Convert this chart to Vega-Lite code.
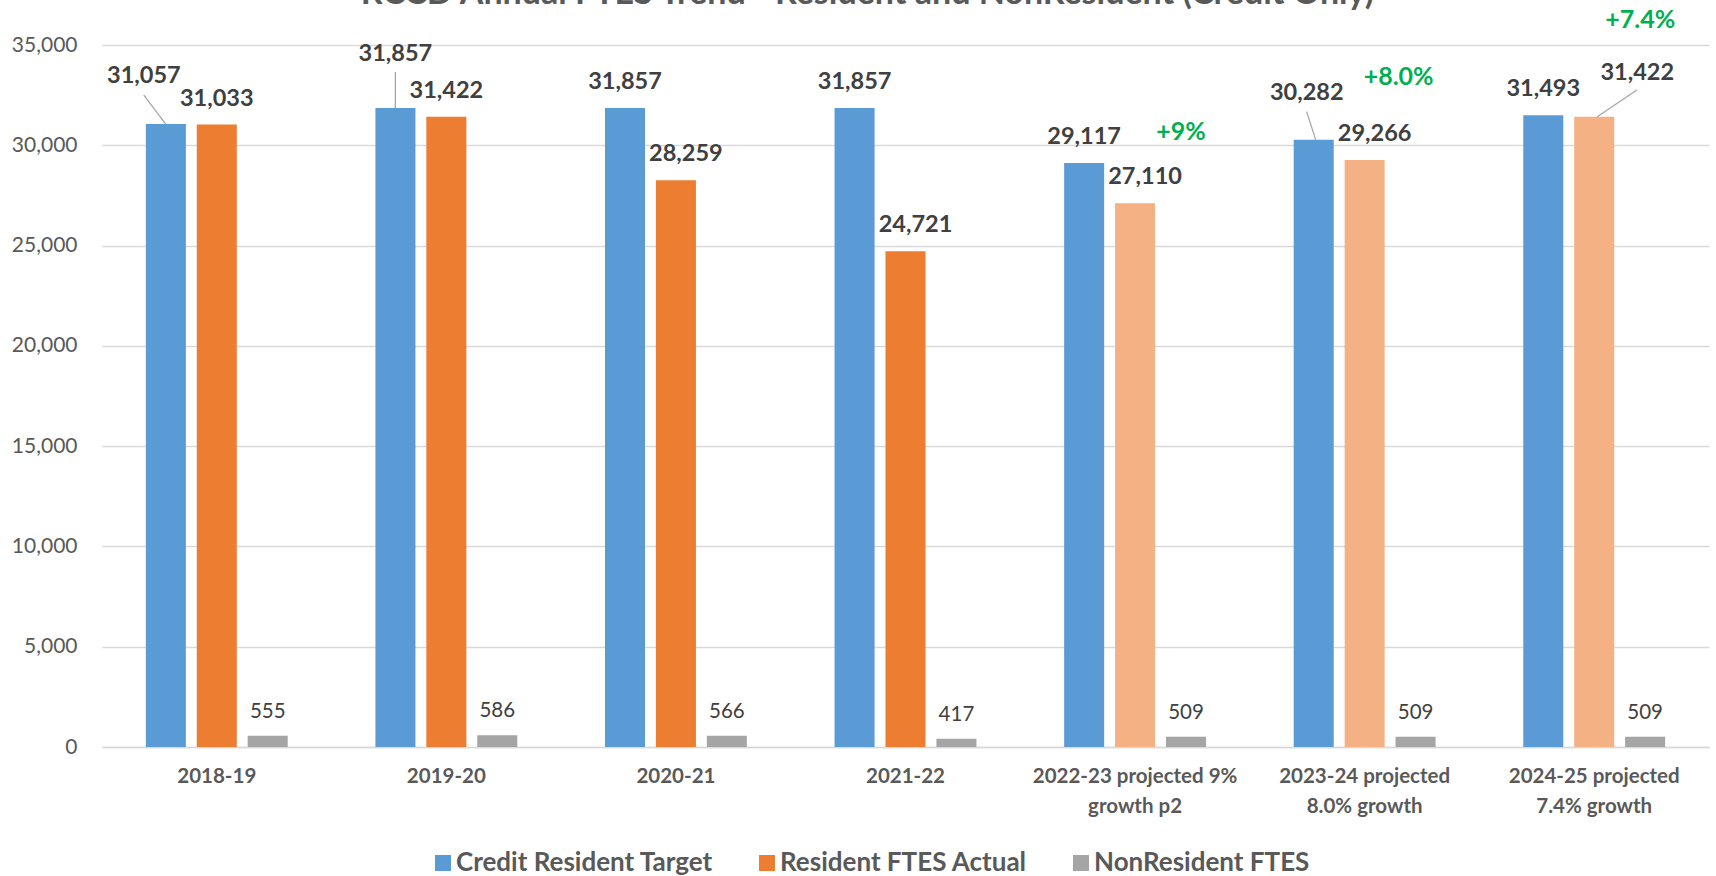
{
  "$schema": "https://vega.github.io/schema/vega-lite/v6.json",
  "width": 1607,
  "height": 702,
  "autosize": {"type": "none"},
  "padding": {"left": 102, "top": 45, "right": 7, "bottom": 129},
  "background": "white",
  "config": {
    "view": {"stroke": null},
    "font": "Lato",
    "text": {"font": "Lato"}
  },
  "title": {
    "text": "RCCD Annual FTES Trend - Resident and NonResident (Credit Only)",
    "font": "Lato",
    "fontSize": 34,
    "fontWeight": "bold",
    "color": "#595959",
    "anchor": "middle",
    "frame": "group",
    "offset": 8,
    "dx": -38,
    "dy": 11
  },
  "data": {
    "values": [
      {"year": "2018-19", "series": "Credit Resident Target", "value": 31057},
      {"year": "2018-19", "series": "Resident FTES Actual", "value": 31033},
      {"year": "2018-19", "series": "NonResident FTES", "value": 555},
      {"year": "2019-20", "series": "Credit Resident Target", "value": 31857},
      {"year": "2019-20", "series": "Resident FTES Actual", "value": 31422},
      {"year": "2019-20", "series": "NonResident FTES", "value": 586},
      {"year": "2020-21", "series": "Credit Resident Target", "value": 31857},
      {"year": "2020-21", "series": "Resident FTES Actual", "value": 28259},
      {"year": "2020-21", "series": "NonResident FTES", "value": 566},
      {"year": "2021-22", "series": "Credit Resident Target", "value": 31857},
      {"year": "2021-22", "series": "Resident FTES Actual", "value": 24721},
      {"year": "2021-22", "series": "NonResident FTES", "value": 417},
      {"year": "2022-23 projected 9% growth p2", "series": "Credit Resident Target", "value": 29117},
      {"year": "2022-23 projected 9% growth p2", "series": "Resident FTES Actual", "value": 27110, "growth": "+9%"},
      {"year": "2022-23 projected 9% growth p2", "series": "NonResident FTES", "value": 509},
      {"year": "2023-24 projected 8.0% growth", "series": "Credit Resident Target", "value": 30282},
      {"year": "2023-24 projected 8.0% growth", "series": "Resident FTES Actual", "value": 29266, "growth": "+8.0%"},
      {"year": "2023-24 projected 8.0% growth", "series": "NonResident FTES", "value": 509},
      {"year": "2024-25 projected 7.4% growth", "series": "Credit Resident Target", "value": 31493},
      {"year": "2024-25 projected 7.4% growth", "series": "Resident FTES Actual", "value": 31422, "growth": "+7.4%"},
      {"year": "2024-25 projected 7.4% growth", "series": "NonResident FTES", "value": 509}
    ]
  },
  "encoding": {
    "x": {
      "field": "year",
      "type": "nominal",
      "sort": null,
      "scale": {"paddingInner": 0.382, "paddingOuter": 0.191},
      "axis": {
        "title": null,
        "labelAngle": 0,
        "labelFont": "Lato",
        "labelFontSize": 20.5,
        "labelFontWeight": "bold",
        "labelColor": "#595959",
        "labelPadding": 19,
        "labelLineHeight": 30,
        "labelBaseline": "top",
        "labelLimit": 400,
        "ticks": false,
        "domainColor": "#D9D9D9",
        "domainWidth": 1.5,
        "labelExpr": "datum.value == '2022-23 projected 9% growth p2' ? ['2022-23 projected 9%', 'growth p2'] : datum.value == '2023-24 projected 8.0% growth' ? ['2023-24 projected', '8.0% growth'] : datum.value == '2024-25 projected 7.4% growth' ? ['2024-25 projected', '7.4% growth'] : datum.value"
      }
    },
    "y": {
      "field": "value",
      "type": "quantitative",
      "scale": {"domain": [0, 35000], "nice": false},
      "axis": {
        "title": null,
        "values": [0, 5000, 10000, 15000, 20000, 25000, 30000, 35000],
        "format": ",.0f",
        "labelFont": "Lato",
        "labelFontSize": 21,
        "labelColor": "#595959",
        "labelPadding": 25,
        "ticks": false,
        "domain": false,
        "gridColor": "#D9D9D9",
        "gridWidth": 1.5
      }
    }
  },
  "layer": [
    {
      "mark": {"type": "bar"},
      "encoding": {
        "xOffset": {
          "field": "series",
          "sort": ["Credit Resident Target", "Resident FTES Actual", "NonResident FTES"],
          "scale": {"paddingInner": 0.214, "paddingOuter": 0}
        },
        "color": {
          "field": "series",
          "type": "nominal",
          "condition": {"test": "datum.series == 'Resident FTES Actual' && length(datum.year) > 7", "value": "#F4B183"},
          "scale": {
            "domain": ["Credit Resident Target", "Resident FTES Actual", "NonResident FTES"],
            "range": ["#5B9BD5", "#ED7D31", "#A5A5A5"]
          },
          "legend": {
            "title": null,
            "orient": "none",
            "direction": "horizontal",
            "legendX": 328,
            "legendY": 805,
            "symbolType": "square",
            "symbolSize": 256,
            "symbolStrokeWidth": 0,
            "labelFont": "Lato",
            "labelFontSize": 26,
            "labelFontWeight": "bold",
            "labelColor": "#595959",
            "labelOffset": 0,
            "columnPadding": 41,
            "labelLimit": 400
          }
        }
      }
    },
    {
      "transform": [{"filter": "datum.series == 'Credit Resident Target' && datum.year == '2018-19'"}],
      "mark": {"type": "rule", "color": "#A6A6A6", "strokeWidth": 1.3, "xOffset": -51, "x2Offset": -73, "yOffset": 0, "y2Offset": -29},
      "encoding": {"x2": {"field": "year"}, "y2": {"field": "value"}}
    },
    {
      "transform": [{"filter": "datum.series == 'Credit Resident Target' && datum.year == '2019-20'"}],
      "mark": {"type": "rule", "color": "#A6A6A6", "strokeWidth": 1.3, "xOffset": -51, "x2Offset": -51, "yOffset": 0, "y2Offset": -36},
      "encoding": {"x2": {"field": "year"}, "y2": {"field": "value"}}
    },
    {
      "transform": [{"filter": "datum.series == 'Credit Resident Target' && datum.year == '2023-24 projected 8.0% growth'"}],
      "mark": {"type": "rule", "color": "#A6A6A6", "strokeWidth": 1.3, "xOffset": -49, "x2Offset": -58, "yOffset": 0, "y2Offset": -28},
      "encoding": {"x2": {"field": "year"}, "y2": {"field": "value"}}
    },
    {
      "transform": [{"filter": "datum.series == 'Resident FTES Actual' && datum.year == '2024-25 projected 7.4% growth'"}],
      "mark": {"type": "rule", "color": "#A6A6A6", "strokeWidth": 1.3, "xOffset": 3, "x2Offset": 43, "yOffset": 0, "y2Offset": -27},
      "encoding": {"x2": {"field": "year"}, "y2": {"field": "value"}}
    },
    {
      "transform": [{"filter": "datum.series == 'Credit Resident Target' && datum.year != '2018-19' && datum.year != '2019-20' && datum.year != '2023-24 projected 8.0% growth'"}],
      "mark": {"type": "text", "font": "Lato", "fontSize": 23.5, "fontWeight": "bold", "color": "#404040", "baseline": "alphabetic", "dy": -19},
      "encoding": {"xOffset": {"field": "series", "sort": ["Credit Resident Target", "Resident FTES Actual", "NonResident FTES"], "scale": {"paddingInner": 0.214, "paddingOuter": 0}}, "text": {"field": "value", "format": ",.0f"}}
    },
    {
      "transform": [{"filter": "datum.series == 'Credit Resident Target' && datum.year == '2018-19'"}],
      "mark": {"type": "text", "font": "Lato", "fontSize": 23.5, "fontWeight": "bold", "color": "#404040", "baseline": "alphabetic", "dx": -22, "dy": -41},
      "encoding": {"xOffset": {"field": "series", "sort": ["Credit Resident Target", "Resident FTES Actual", "NonResident FTES"], "scale": {"paddingInner": 0.214, "paddingOuter": 0}}, "text": {"field": "value", "format": ",.0f"}}
    },
    {
      "transform": [{"filter": "datum.series == 'Credit Resident Target' && datum.year == '2019-20'"}],
      "mark": {"type": "text", "font": "Lato", "fontSize": 23.5, "fontWeight": "bold", "color": "#404040", "baseline": "alphabetic", "dx": 0, "dy": -47},
      "encoding": {"xOffset": {"field": "series", "sort": ["Credit Resident Target", "Resident FTES Actual", "NonResident FTES"], "scale": {"paddingInner": 0.214, "paddingOuter": 0}}, "text": {"field": "value", "format": ",.0f"}}
    },
    {
      "transform": [{"filter": "datum.series == 'Credit Resident Target' && datum.year == '2023-24 projected 8.0% growth'"}],
      "mark": {"type": "text", "font": "Lato", "fontSize": 23.5, "fontWeight": "bold", "color": "#404040", "baseline": "alphabetic", "dx": -7, "dy": -40},
      "encoding": {"xOffset": {"field": "series", "sort": ["Credit Resident Target", "Resident FTES Actual", "NonResident FTES"], "scale": {"paddingInner": 0.214, "paddingOuter": 0}}, "text": {"field": "value", "format": ",.0f"}}
    },
    {
      "transform": [{"filter": "datum.series == 'Resident FTES Actual' && (datum.year == '2018-19' || datum.year == '2019-20')"}],
      "mark": {"type": "text", "font": "Lato", "fontSize": 23.5, "fontWeight": "bold", "color": "#404040", "baseline": "alphabetic", "dy": -19},
      "encoding": {"xOffset": {"field": "series", "sort": ["Credit Resident Target", "Resident FTES Actual", "NonResident FTES"], "scale": {"paddingInner": 0.214, "paddingOuter": 0}}, "text": {"field": "value", "format": ",.0f"}}
    },
    {
      "transform": [{"filter": "datum.series == 'Resident FTES Actual' && datum.year != '2018-19' && datum.year != '2019-20' && datum.year != '2024-25 projected 7.4% growth'"}],
      "mark": {"type": "text", "font": "Lato", "fontSize": 23.5, "fontWeight": "bold", "color": "#404040", "baseline": "alphabetic", "dx": 10, "dy": -19},
      "encoding": {"xOffset": {"field": "series", "sort": ["Credit Resident Target", "Resident FTES Actual", "NonResident FTES"], "scale": {"paddingInner": 0.214, "paddingOuter": 0}}, "text": {"field": "value", "format": ",.0f"}}
    },
    {
      "transform": [{"filter": "datum.series == 'Resident FTES Actual' && datum.year == '2024-25 projected 7.4% growth'"}],
      "mark": {"type": "text", "font": "Lato", "fontSize": 23.5, "fontWeight": "bold", "color": "#404040", "baseline": "alphabetic", "dx": 43, "dy": -37},
      "encoding": {"xOffset": {"field": "series", "sort": ["Credit Resident Target", "Resident FTES Actual", "NonResident FTES"], "scale": {"paddingInner": 0.214, "paddingOuter": 0}}, "text": {"field": "value", "format": ",.0f"}}
    },
    {
      "transform": [{"filter": "datum.series == 'NonResident FTES'"}],
      "mark": {"type": "text", "font": "Lato", "fontSize": 20.5, "color": "#404040", "baseline": "alphabetic", "dy": -18},
      "encoding": {"xOffset": {"field": "series", "sort": ["Credit Resident Target", "Resident FTES Actual", "NonResident FTES"], "scale": {"paddingInner": 0.214, "paddingOuter": 0}}, "text": {"field": "value", "format": ",.0f"}}
    },
    {
      "transform": [{"filter": "datum.growth == '+9%'"}],
      "mark": {"type": "text", "font": "Lato", "fontSize": 25, "fontWeight": "bold", "color": "#00B050", "baseline": "alphabetic", "dx": 46, "dy": -63},
      "encoding": {"xOffset": {"field": "series", "sort": ["Credit Resident Target", "Resident FTES Actual", "NonResident FTES"], "scale": {"paddingInner": 0.214, "paddingOuter": 0}}, "text": {"field": "growth"}}
    },
    {
      "transform": [{"filter": "datum.growth == '+8.0%'"}],
      "mark": {"type": "text", "font": "Lato", "fontSize": 25, "fontWeight": "bold", "color": "#00B050", "baseline": "alphabetic", "dx": 34, "dy": -75},
      "encoding": {"xOffset": {"field": "series", "sort": ["Credit Resident Target", "Resident FTES Actual", "NonResident FTES"], "scale": {"paddingInner": 0.214, "paddingOuter": 0}}, "text": {"field": "growth"}}
    },
    {
      "transform": [{"filter": "datum.growth == '+7.4%'"}],
      "mark": {"type": "text", "font": "Lato", "fontSize": 25, "fontWeight": "bold", "color": "#00B050", "baseline": "alphabetic", "dx": 46, "dy": -89},
      "encoding": {"xOffset": {"field": "series", "sort": ["Credit Resident Target", "Resident FTES Actual", "NonResident FTES"], "scale": {"paddingInner": 0.214, "paddingOuter": 0}}, "text": {"field": "growth"}}
    }
  ]
}
